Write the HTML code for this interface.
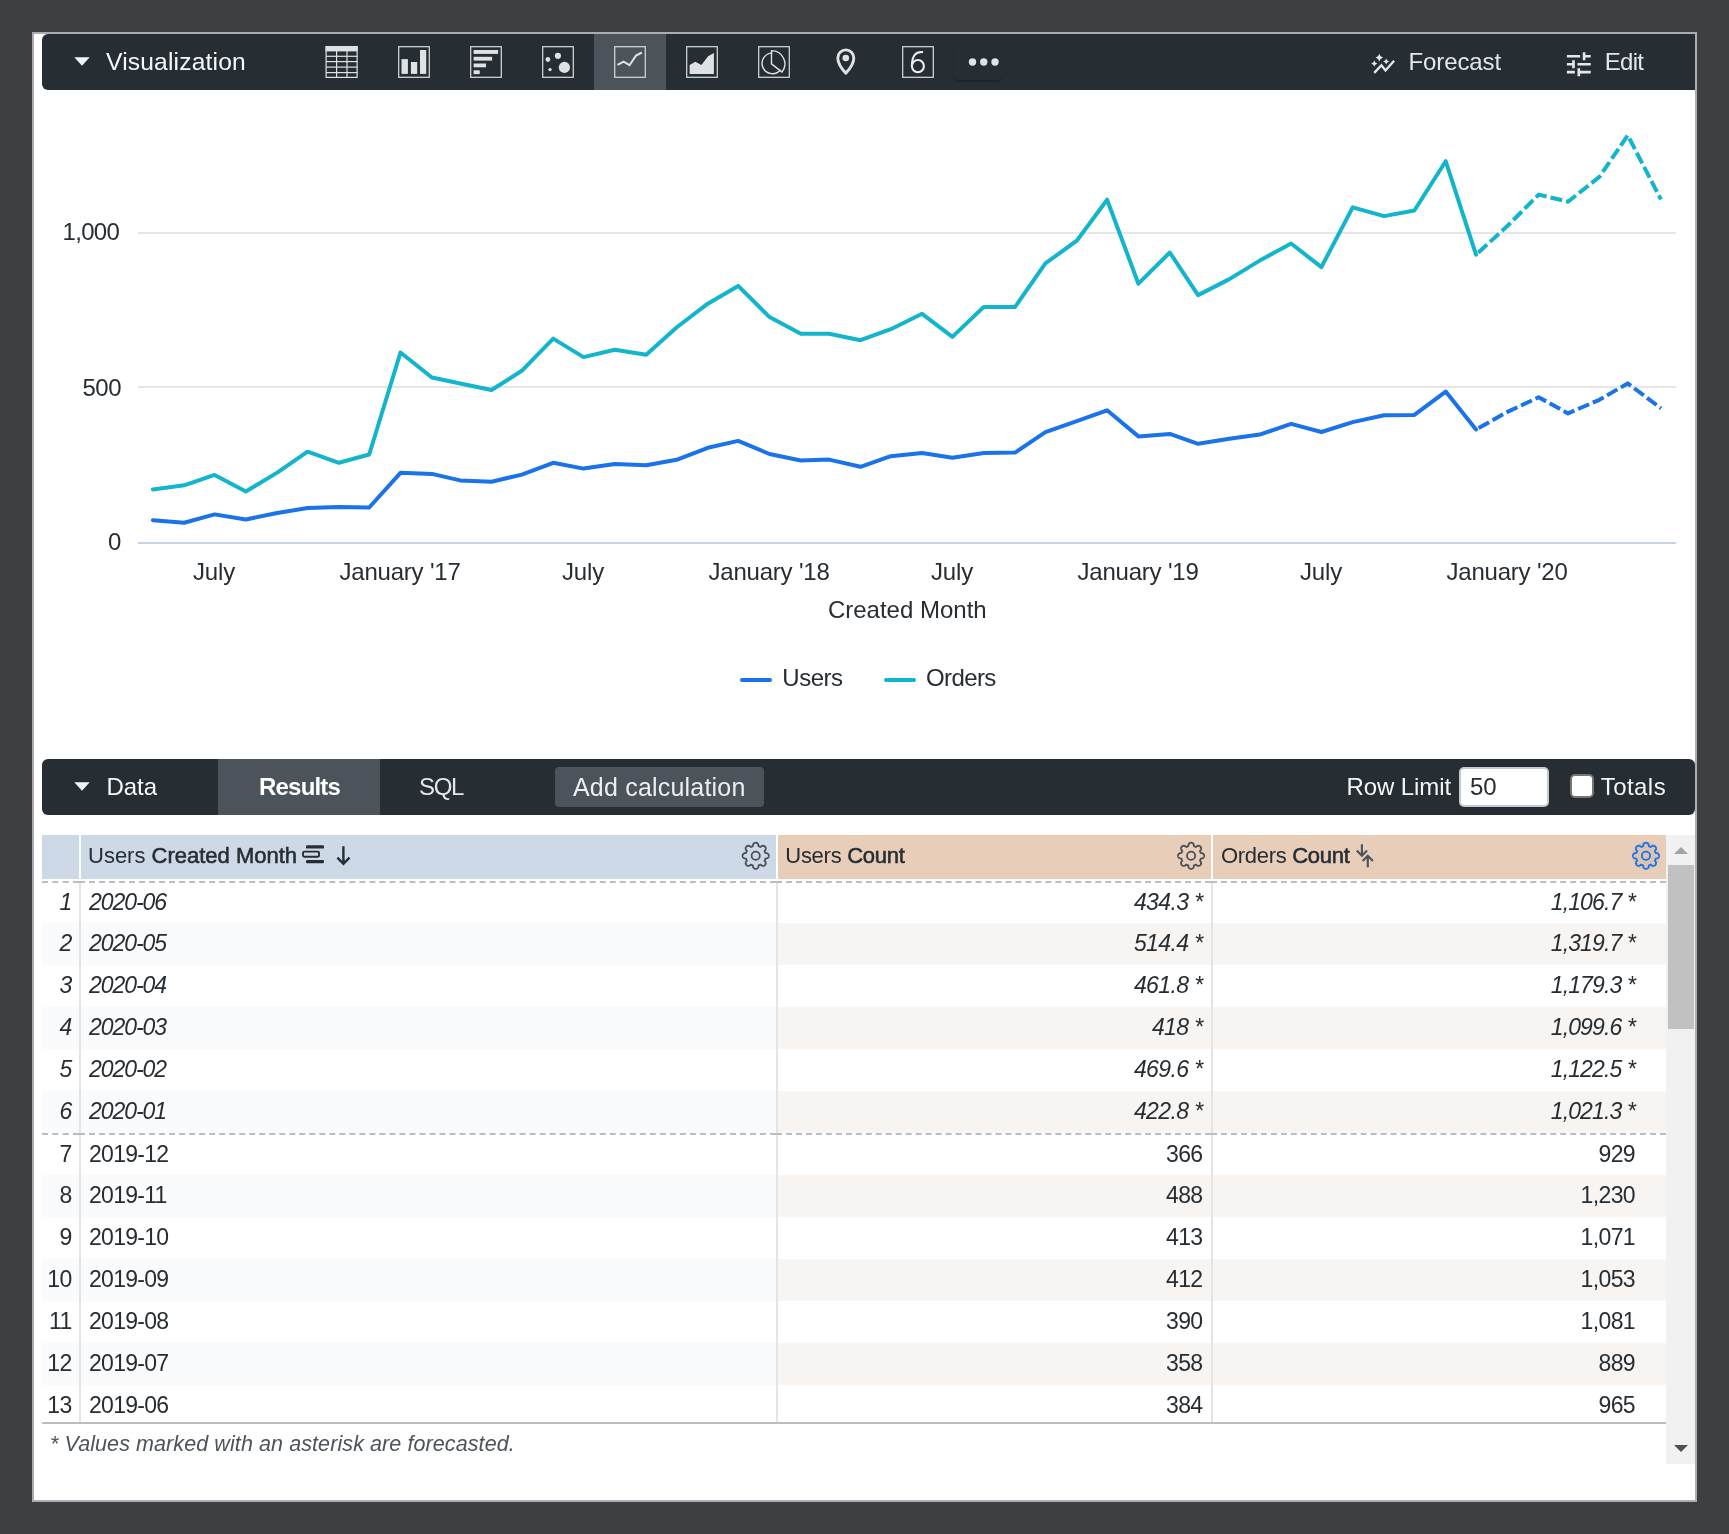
<!DOCTYPE html>
<html><head><meta charset="utf-8"><title>Explore</title>
<style>
*{box-sizing:border-box;margin:0;padding:0}
html,body{width:1729px;height:1534px;overflow:hidden;background:#3c4043;font-family:"Liberation Sans",sans-serif;color:#262d33}
.page>*,.row>div{position:absolute}
.page{position:absolute;left:0;top:0;width:1729px;height:1534px;overflow:hidden;will-change:transform}
.frame{left:32px;top:32px;width:1665px;height:1470px;border:2px solid #abadb2;background:#fff}
.bar{left:42px;width:1653px;height:56px;background:#262d33;color:#f4f5f6}
.vizbar{top:34px;border-radius:6px 0 0 6px}
.databar{top:759px;border-radius:6px}
.t{white-space:nowrap;line-height:1}
.sel{background:#4c535b}
svg.chart{left:0;top:0}
.ax{font-size:24px;color:#262d33}
.hdr{top:835px;height:44px}
.xl{transform:translateX(-50%);letter-spacing:-0.2px;margin-top:-0.5px}
.th{font-size:22px;color:#262d33;top:845px}
.th b{font-weight:normal;-webkit-text-stroke:0.55px #262d33}
.row{left:42px;width:1624px;height:42px;font-size:23px}
.row>div{top:0;height:42px;line-height:42px;white-space:nowrap}
.row>div>span{position:relative;top:-1px;display:inline-block;line-height:1}
.row.bt>div>span{top:0px}
.row .c0{left:0;width:37px;text-align:right;padding-right:7.5px;letter-spacing:-0.7px}
.row .c1{left:39px;width:695px;padding-left:8px;letter-spacing:-0.72px}
.row .c2{left:736px;width:433px;text-align:right;padding-right:8.5px;letter-spacing:-0.62px}
.row .c3{left:1171px;width:453px;text-align:right;padding-right:31px;letter-spacing:-0.62px}
.row.fc .c1{letter-spacing:-1.05px}
.row.fc .c3{letter-spacing:-0.87px}
.row.alt .c0,.row.alt .c1{background:#f9fbfd}
.row.alt .c2,.row.alt .c3{background:#f7f4f1}
.row.fc{font-style:italic}
.vsep{width:2px;background:rgba(0,0,0,0.105);top:883px;height:539px}
.dash{height:0;border-top:2px dashed #b9bec6}
</style></head><body>
<div class="page">
<div class="frame"></div>

<!-- ===== Visualization bar ===== -->
<div class="bar vizbar"></div>
<div class="sel" style="left:594px;top:34px;width:72px;height:56px"></div>
<svg style="left:74px;top:57px" width="16" height="9" viewBox="0 0 16 9"><path d="M0.3 0.3h15.4L8 8.7z" fill="#f4f5f6"/></svg>
<div class="t" id="t_viz" style="left:106px;top:50px;font-size:24.6px;letter-spacing:0.17px;color:#f8f9fa">Visualization</div>

<div style="left:954px;top:41px;width:48px;height:39px;border-radius:5px;background:#262d33;box-shadow:0 2px 3px -1px rgba(0,0,0,0.35)"></div>
<svg style="left:0;top:0" width="1729" height="100" viewBox="0 0 1729 100"><g stroke="#dfe1e5" stroke-width="1.2" fill="none"><rect x="325.6" y="46" width="32" height="5.4" fill="#dfe1e5" stroke="none"/><rect x="326.1" y="46.6" width="31" height="30.8"/><line x1="326" x2="357.5" y1="56.3" y2="56.3"/><line x1="326" x2="357.5" y1="61.6" y2="61.6"/><line x1="326" x2="357.5" y1="67.1" y2="67.1"/><line x1="326" x2="357.5" y1="72.6" y2="72.6"/><line x1="336.6" x2="336.6" y1="51" y2="77.5"/><line x1="347.0" x2="347.0" y1="51" y2="77.5"/></g><rect x="398.7" y="46.7" width="30.6" height="30.6" fill="none" stroke="#d3d6da" stroke-width="1.25"/><g fill="#dfe1e5"><rect x="401.5" y="59.1" width="6.4" height="14.8"/><rect x="410.9" y="62" width="6.3" height="11.9"/><rect x="420" y="50" width="6.2" height="23.9"/></g><rect x="470.7" y="46.7" width="30.6" height="30.6" fill="none" stroke="#d3d6da" stroke-width="1.25"/><g fill="#dfe1e5"><rect x="473.6" y="50" width="24.5" height="3.9"/><rect x="473.6" y="56.8" width="18.5" height="3.8"/><rect x="473.6" y="63.5" width="12.4" height="3.8"/><rect x="473.6" y="70.3" width="6.1" height="3.8"/></g><rect x="542.7" y="46.7" width="30.6" height="30.6" fill="none" stroke="#d3d6da" stroke-width="1.25"/><g fill="#dfe1e5"><circle cx="557.9" cy="55.8" r="3.1"/><circle cx="547.9" cy="59.5" r="2.4"/><circle cx="564.4" cy="67.4" r="5.6"/><circle cx="550" cy="69.6" r="1.7"/></g><rect x="614.7" y="46.7" width="30.6" height="30.6" fill="none" stroke="#d3d6da" stroke-width="1.25"/><polyline points="617.5,64.9 623.6,61.6 629.5,65.2 636,55.6 641.9,52.5" fill="none" stroke="#dfe1e5" stroke-width="2"/><rect x="686.7" y="46.7" width="30.6" height="30.6" fill="none" stroke="#d3d6da" stroke-width="1.25"/><polygon points="689.6,73.9 689.6,64.9 695.4,61.7 701.4,64.9 708.1,56.2 713.9,53 713.9,73.9" fill="#dfe1e5"/><rect x="758.7" y="46.7" width="30.6" height="30.6" fill="none" stroke="#d3d6da" stroke-width="1.25"/><path d="M772.4 53.099999999999994 A10.3 10.3 0 1 0 780.5 69.7" fill="none" stroke="#dfe1e5" stroke-width="1.4"/><path d="M771.5 63.9 L771.5 50.599999999999994 A13.3 13.3 0 0 1 782.0 72.1 Z" fill="none" stroke="#dfe1e5" stroke-width="1.4" stroke-linejoin="round"/><path d="M845.8 73.2 C845.8 73.2 837.8 64.4 837.8 57.9 A8 8 0 0 1 853.8 57.9 C853.8 64.4 845.8 73.2 845.8 73.2 Z" fill="none" stroke="#dfe1e5" stroke-width="2.9" stroke-linejoin="round"/><circle cx="845.8" cy="58" r="3.3" fill="#dfe1e5"/><rect x="902.7" y="46.7" width="30.6" height="30.6" fill="none" stroke="#d3d6da" stroke-width="1.25"/><path d="M923 52.1 C915.8 51.3 911.9 55.8 911.9 66.1" fill="none" stroke="#eceef1" stroke-width="2.1"/><ellipse cx="917.9" cy="66.1" rx="6" ry="6.1" fill="none" stroke="#eceef1" stroke-width="2.1"/><circle cx="972.5" cy="62" r="3.7" fill="#e1e3e7"/><circle cx="983.75" cy="62" r="3.7" fill="#e1e3e7"/><circle cx="995" cy="62" r="3.7" fill="#e1e3e7"/><polyline points="1374.2,72.9 1381.4,65.2 1385.5,70.5 1394.1,60.8" fill="none" stroke="#e4e7eb" stroke-width="2.3"/><g fill="#e4e7eb"><polygon points="1379.30,53.80 1380.59,56.31 1383.10,57.60 1380.59,58.89 1379.30,61.40 1378.01,58.89 1375.50,57.60 1378.01,56.31"/><polygon points="1386.20,58.40 1387.25,60.45 1389.30,61.50 1387.25,62.55 1386.20,64.60 1385.15,62.55 1383.10,61.50 1385.15,60.45"/><polygon points="1374.30,60.50 1375.35,62.55 1377.40,63.60 1375.35,64.65 1374.30,66.70 1373.25,64.65 1371.20,63.60 1373.25,62.55"/></g><g transform="translate(1562.9 48.3) scale(1.325)" fill="#e4e7eb"><path d="M3 17v2h6v-2H3zM3 5v2h10V5H3zm10 16v-2h8v-2h-8v-2h-2v6h2zM7 9v2H3v2h4v2h2V9H7zm14 4v-2H11v2h10zm-6-4h2V7h4V5h-4V3h-2v6z"/></g></svg>
<div class="t" id="t_fc" style="left:1408.6px;top:50.3px;font-size:24px;color:#e4e6e9;letter-spacing:-0.13px">Forecast</div>
<div class="t" id="t_edit" style="left:1604.7px;top:50.3px;font-size:24px;color:#e4e6e9;letter-spacing:-0.7px">Edit</div>

<!-- ===== Chart ===== -->

<svg class="chart" width="1729" height="1534" viewBox="0 0 1729 1534">
 <g stroke="#e6e6e6" stroke-width="2">
  <line x1="138" x2="1676" y1="233" y2="233"/>
  <line x1="138" x2="1676" y1="387" y2="387"/>
 </g>
 <line x1="138" x2="1676" y1="543" y2="543" stroke="#c8d2e9" stroke-width="2"/>
 <g fill="none" stroke-width="4" stroke-linejoin="round">
  <path d="M152.9 520.2 L184.2 522.8 L214.6 514.4 L245.9 519.5 L277.2 513.0 L307.6 508.0 L338.9 507.0 L369.2 507.5 L400.5 472.8 L431.9 473.9 L460.2 480.4 L491.5 481.8 L521.8 474.6 L553.2 462.8 L583.5 468.6 L614.8 464.0 L646.2 465.2 L676.5 459.8 L707.8 447.8 L738.2 440.9 L769.5 454.0 L800.8 460.5 L829.1 459.6 L860.5 466.8 L890.8 456.2 L922.1 453.1 L952.4 457.7 L983.8 453.1 L1015.1 452.6 L1045.4 432.2 L1076.8 421.1 L1107.1 410.3 L1138.4 436.4 L1169.8 433.9 L1198.1 443.8 L1229.4 438.7 L1259.7 434.6 L1291.1 423.9 L1321.4 432.0 L1352.7 422.1 L1384.1 415.2 L1414.4 414.9 L1445.7 391.6 L1476.0 429.5" stroke="#1a73e8" stroke-linecap="round"/>
  <path d="M1476.0 429.5 L1507.4 411.9 L1538.7 397.3 L1568.0 413.4 L1599.4 399.8 L1627.7 383.4 L1661.0 408.3" stroke="#1a73e8" stroke-dasharray="12 4" stroke-dashoffset="13"/>
  <path d="M152.9 489.4 L184.2 485.3 L214.6 474.9 L245.9 491.5 L277.2 472.6 L307.6 451.7 L338.9 462.8 L369.2 454.5 L400.5 352.5 L431.9 377.5 L460.2 383.5 L491.5 390.0 L521.8 370.8 L553.2 338.6 L583.5 357.1 L614.8 349.7 L646.2 354.8 L676.5 327.5 L707.8 303.7 L738.2 285.9 L769.5 317.1 L800.8 333.7 L829.1 333.7 L860.5 340.2 L890.8 329.2 L922.1 313.8 L952.4 336.9 L983.8 306.9 L1015.1 306.9 L1045.4 263.4 L1076.8 240.7 L1107.1 199.7 L1138.4 283.7 L1169.8 252.5 L1198.1 295.1 L1229.4 279.1 L1259.7 260.6 L1291.1 243.5 L1321.4 267.1 L1352.7 207.4 L1384.1 216.1 L1414.4 210.5 L1445.7 161.2 L1476.0 254.7" stroke="#12b5cb" stroke-linecap="round"/>
  <path d="M1476.0 254.7 L1507.4 226.0 L1538.7 194.6 L1568.0 201.7 L1599.4 176.9 L1627.7 135.3 L1661.0 199.5" stroke="#12b5cb" stroke-dasharray="12 4" stroke-dashoffset="13"/>
 </g>
 <line x1="742" x2="770" y1="680" y2="680" stroke="#1a73e8" stroke-width="4" stroke-linecap="round"/>
 <line x1="886" x2="914" y1="680" y2="680" stroke="#12b5cb" stroke-width="4" stroke-linecap="round"/>
</svg>

<div class="t ax" id="ax1000" style="left:62.6px;top:219.5px;letter-spacing:-0.7px">1,000</div>
<div class="t ax" id="ax500" style="left:82.5px;top:375.5px;letter-spacing:-0.5px">500</div>
<div class="t ax" id="ax0" style="left:108px;top:529.5px">0</div>
<div class="t ax xl" id="xl0" style="left:214px;top:560px">July</div>
<div class="t ax xl" id="xl1" style="left:400px;top:560px">January '17</div>
<div class="t ax xl" style="left:583px;top:560px">July</div>
<div class="t ax xl" style="left:769px;top:560px">January '18</div>
<div class="t ax xl" style="left:952px;top:560px">July</div>
<div class="t ax xl" style="left:1138px;top:560px">January '19</div>
<div class="t ax xl" style="left:1321px;top:560px">July</div>
<div class="t ax xl" style="left:1507px;top:560px">January '20</div>
<div class="t ax xl" id="axt" style="left:907.3px;top:598px;letter-spacing:0">Created Month</div>
<div class="t ax" id="lgU" style="left:782.3px;top:666px;letter-spacing:-0.5px">Users</div>
<div class="t ax" id="lgO" style="left:926px;top:666px;letter-spacing:-0.6px">Orders</div>

<!-- ===== Data bar ===== -->
<div class="bar databar"></div>
<div class="sel" style="left:218px;top:759px;width:162px;height:56px"></div>
<svg style="left:74px;top:782px" width="16" height="9" viewBox="0 0 16 9"><path d="M0.3 0.3h15.4L8 8.7z" fill="#f4f5f6"/></svg>
<div class="t" id="t_data" style="left:106.4px;top:775px;font-size:24px;color:#f8f9fa">Data</div>
<div class="t" id="t_res" style="left:259px;top:775px;font-size:24px;font-weight:bold;color:#fff;letter-spacing:-0.8px">Results</div>
<div class="t" id="t_sql" style="left:419px;top:775px;font-size:24px;color:#e4e6e9;letter-spacing:-1.3px">SQL</div>
<div style="left:555px;top:767px;width:209px;height:40px;background:#4c535b;border-radius:4px"></div>
<div class="t" id="t_add" style="left:573px;top:774.5px;font-size:25px;color:#eceef0;letter-spacing:0.2px">Add calculation</div>
<div class="t" id="t_rl" style="left:1346.5px;top:774.5px;font-size:24px;color:#f4f5f6;letter-spacing:-0.1px">Row Limit</div>
<div style="left:1459px;top:767px;width:90px;height:40px;background:#fff;border:2px solid #c6c9cd;border-radius:5px"></div>
<div class="t" id="t_50" style="left:1470px;top:775px;font-size:24px;color:#262d33">50</div>
<div style="left:1570px;top:774px;width:24px;height:24px;background:#fff;border:2px solid #767676;border-radius:5px"></div>
<div class="t" id="t_tot" style="left:1600.7px;top:774.5px;font-size:24px;color:#f4f5f6;letter-spacing:0.45px">Totals</div>

<!-- ===== Table ===== -->
<div class="hdr" style="left:42px;width:37px;background:#cdd9e7"></div>
<div class="hdr" style="left:81px;width:695px;background:#cdd9e7"></div>
<div class="hdr" style="left:778px;width:433px;background:#e8cdb9"></div>
<div class="hdr" style="left:1213px;width:453px;background:#e8cdb9"></div>
<div class="t th" id="th1" style="left:88px">Users <b>Created Month</b></div>
<div class="t th" id="th2" style="left:785.3px;letter-spacing:-0.28px">Users <b>Count</b></div>
<div class="t th" id="th3" style="left:1221px;letter-spacing:-0.3px">Orders <b>Count</b></div>

<div class="row fc bt" style="top:881px"><div class="c0"><span>1</span></div><div class="c1"><span>2020-06</span></div><div class="c2"><span>434.3 *</span></div><div class="c3"><span>1,106.7 *</span></div></div>
<div class="row alt fc" style="top:923px"><div class="c0"><span>2</span></div><div class="c1"><span>2020-05</span></div><div class="c2"><span>514.4 *</span></div><div class="c3"><span>1,319.7 *</span></div></div>
<div class="row fc" style="top:965px"><div class="c0"><span>3</span></div><div class="c1"><span>2020-04</span></div><div class="c2"><span>461.8 *</span></div><div class="c3"><span>1,179.3 *</span></div></div>
<div class="row alt fc" style="top:1007px"><div class="c0"><span>4</span></div><div class="c1"><span>2020-03</span></div><div class="c2"><span>418 *</span></div><div class="c3"><span>1,099.6 *</span></div></div>
<div class="row fc" style="top:1049px"><div class="c0"><span>5</span></div><div class="c1"><span>2020-02</span></div><div class="c2"><span>469.6 *</span></div><div class="c3"><span>1,122.5 *</span></div></div>
<div class="row alt fc" style="top:1091px"><div class="c0"><span>6</span></div><div class="c1"><span>2020-01</span></div><div class="c2"><span>422.8 *</span></div><div class="c3"><span>1,021.3 *</span></div></div>
<div class="row bt" style="top:1133px"><div class="c0"><span>7</span></div><div class="c1"><span>2019-12</span></div><div class="c2"><span>366</span></div><div class="c3"><span>929</span></div></div>
<div class="row alt" style="top:1175px"><div class="c0"><span>8</span></div><div class="c1"><span>2019-11</span></div><div class="c2"><span>488</span></div><div class="c3"><span>1,230</span></div></div>
<div class="row" style="top:1217px"><div class="c0"><span>9</span></div><div class="c1"><span>2019-10</span></div><div class="c2"><span>413</span></div><div class="c3"><span>1,071</span></div></div>
<div class="row alt" style="top:1259px"><div class="c0"><span>10</span></div><div class="c1"><span>2019-09</span></div><div class="c2"><span>412</span></div><div class="c3"><span>1,053</span></div></div>
<div class="row" style="top:1301px"><div class="c0"><span>11</span></div><div class="c1"><span>2019-08</span></div><div class="c2"><span>390</span></div><div class="c3"><span>1,081</span></div></div>
<div class="row alt" style="top:1343px"><div class="c0"><span>12</span></div><div class="c1"><span>2019-07</span></div><div class="c2"><span>358</span></div><div class="c3"><span>889</span></div></div>
<div class="row" style="top:1385px"><div class="c0"><span>13</span></div><div class="c1"><span>2019-06</span></div><div class="c2"><span>384</span></div><div class="c3"><span>965</span></div></div>

<div style="left:34px;top:1424px;width:1661px;height:76px;background:#fff"></div>
<div class="vsep" style="left:79px"></div>
<div class="vsep" style="left:776px"></div>
<div class="vsep" style="left:1211px"></div>
<div class="dash" style="left:42px;top:881px;width:37px"></div>
<div class="dash" style="left:79px;top:881px;width:697px"></div>
<div class="dash" style="left:776px;top:881px;width:435px"></div>
<div class="dash" style="left:1211px;top:881px;width:455px"></div>
<div class="dash" style="left:42px;top:1133px;width:37px"></div>
<div class="dash" style="left:79px;top:1133px;width:697px"></div>
<div class="dash" style="left:776px;top:1133px;width:435px"></div>
<div class="dash" style="left:1211px;top:1133px;width:455px"></div>
<div style="left:42px;top:1422px;width:1624px;height:2px;background:#bdbdbd"></div>
<div class="t" id="t_foot" style="left:50px;top:1434px;font-size:21.5px;font-style:italic;color:#4c535b;letter-spacing:0.09px">* Values marked with an asterisk are forecasted.</div>

<svg style="left:0;top:830px" width="1729" height="56" viewBox="0 830 1729 56"><g fill="#262d33"><rect x="306" y="845.3" width="18" height="3.3" rx="1.2"/><rect x="306" y="860" width="18" height="3.3" rx="1.2"/></g><rect x="303.05" y="851.65" width="16" height="5.1" rx="1.2" fill="none" stroke="#262d33" stroke-width="1.9"/><path d="M343.4 846.2 V863.6 M337.4 857.6 L343.4 863.8 L349.5 857.6" fill="none" stroke="#262d33" stroke-width="2.4"/><path d="M1361.9 844.2 V855.5 M1356.8 850.6 L1361.9 855.8 L1367 850.6" fill="none" stroke="#49525e" stroke-width="2.1"/><path d="M1367.8 867.2 V856 M1362.7 861 L1367.8 855.8 L1372.9 861" fill="none" stroke="#49525e" stroke-width="2.1"/><g fill="none" stroke="#4a5058" stroke-width="1.8" stroke-linejoin="round"><path d="M755.70 842.70 L756.04 842.72 L756.38 842.79 L756.72 842.89 L757.04 843.05 L757.35 843.25 L757.65 843.51 L757.92 843.83 L758.16 844.22 L758.36 844.74 L758.45 845.54 L758.54 846.21 L758.79 846.29 L759.04 846.37 L759.28 846.46 L759.53 846.56 L759.77 846.66 L760.01 846.77 L760.24 846.89 L760.47 847.01 L761.01 846.60 L761.64 846.10 L762.15 845.87 L762.60 845.76 L763.02 845.73 L763.40 845.76 L763.77 845.84 L764.11 845.96 L764.42 846.12 L764.71 846.31 L764.96 846.54 L765.19 846.79 L765.38 847.08 L765.54 847.39 L765.66 847.73 L765.74 848.10 L765.77 848.48 L765.74 848.90 L765.63 849.35 L765.40 849.86 L764.90 850.49 L764.49 851.03 L764.61 851.26 L764.73 851.49 L764.84 851.73 L764.94 851.97 L765.04 852.22 L765.13 852.46 L765.21 852.71 L765.29 852.96 L765.96 853.05 L766.76 853.14 L767.28 853.34 L767.67 853.58 L767.99 853.85 L768.25 854.15 L768.45 854.46 L768.61 854.78 L768.71 855.12 L768.78 855.46 L768.80 855.80 L768.78 856.14 L768.71 856.48 L768.61 856.82 L768.45 857.14 L768.25 857.45 L767.99 857.75 L767.67 858.02 L767.28 858.26 L766.76 858.46 L765.96 858.55 L765.29 858.64 L765.21 858.89 L765.13 859.14 L765.04 859.38 L764.94 859.63 L764.84 859.87 L764.73 860.11 L764.61 860.34 L764.49 860.57 L764.90 861.11 L765.40 861.74 L765.63 862.25 L765.74 862.70 L765.77 863.12 L765.74 863.50 L765.66 863.87 L765.54 864.21 L765.38 864.52 L765.19 864.81 L764.96 865.06 L764.71 865.29 L764.42 865.48 L764.11 865.64 L763.77 865.76 L763.40 865.84 L763.02 865.87 L762.60 865.84 L762.15 865.73 L761.64 865.50 L761.01 865.00 L760.47 864.59 L760.24 864.71 L760.01 864.83 L759.77 864.94 L759.53 865.04 L759.28 865.14 L759.04 865.23 L758.79 865.31 L758.54 865.39 L758.45 866.06 L758.36 866.86 L758.16 867.38 L757.92 867.77 L757.65 868.09 L757.35 868.35 L757.04 868.55 L756.72 868.71 L756.38 868.81 L756.04 868.88 L755.70 868.90 L755.36 868.88 L755.02 868.81 L754.68 868.71 L754.36 868.55 L754.05 868.35 L753.75 868.09 L753.48 867.77 L753.24 867.38 L753.04 866.86 L752.95 866.06 L752.86 865.39 L752.61 865.31 L752.36 865.23 L752.12 865.14 L751.87 865.04 L751.63 864.94 L751.39 864.83 L751.16 864.71 L750.93 864.59 L750.39 865.00 L749.76 865.50 L749.25 865.73 L748.80 865.84 L748.38 865.87 L748.00 865.84 L747.63 865.76 L747.29 865.64 L746.98 865.48 L746.69 865.29 L746.44 865.06 L746.21 864.81 L746.02 864.52 L745.86 864.21 L745.74 863.87 L745.66 863.50 L745.63 863.12 L745.66 862.70 L745.77 862.25 L746.00 861.74 L746.50 861.11 L746.91 860.57 L746.79 860.34 L746.67 860.11 L746.56 859.87 L746.46 859.63 L746.36 859.38 L746.27 859.14 L746.19 858.89 L746.11 858.64 L745.44 858.55 L744.64 858.46 L744.12 858.26 L743.73 858.02 L743.41 857.75 L743.15 857.45 L742.95 857.14 L742.79 856.82 L742.69 856.48 L742.62 856.14 L742.60 855.80 L742.62 855.46 L742.69 855.12 L742.79 854.78 L742.95 854.46 L743.15 854.15 L743.41 853.85 L743.73 853.58 L744.12 853.34 L744.64 853.14 L745.44 853.05 L746.11 852.96 L746.19 852.71 L746.27 852.46 L746.36 852.22 L746.46 851.97 L746.56 851.73 L746.67 851.49 L746.79 851.26 L746.91 851.03 L746.50 850.49 L746.00 849.86 L745.77 849.35 L745.66 848.90 L745.63 848.48 L745.66 848.10 L745.74 847.73 L745.86 847.39 L746.02 847.08 L746.21 846.79 L746.44 846.54 L746.69 846.31 L746.98 846.12 L747.29 845.96 L747.63 845.84 L748.00 845.76 L748.38 845.73 L748.80 845.76 L749.25 845.87 L749.76 846.10 L750.39 846.60 L750.93 847.01 L751.16 846.89 L751.39 846.77 L751.63 846.66 L751.87 846.56 L752.12 846.46 L752.36 846.37 L752.61 846.29 L752.86 846.21 L752.95 845.54 L753.04 844.74 L753.24 844.22 L753.48 843.83 L753.75 843.51 L754.05 843.25 L754.36 843.05 L754.68 842.89 L755.02 842.79 L755.36 842.72Z"/><circle cx="755.7" cy="855.8" r="4.1"/></g><g fill="none" stroke="#4a5058" stroke-width="1.8" stroke-linejoin="round"><path d="M1191.10 842.70 L1191.44 842.72 L1191.78 842.79 L1192.12 842.89 L1192.44 843.05 L1192.75 843.25 L1193.05 843.51 L1193.32 843.83 L1193.56 844.22 L1193.76 844.74 L1193.85 845.54 L1193.94 846.21 L1194.19 846.29 L1194.44 846.37 L1194.68 846.46 L1194.93 846.56 L1195.17 846.66 L1195.41 846.77 L1195.64 846.89 L1195.87 847.01 L1196.41 846.60 L1197.04 846.10 L1197.55 845.87 L1198.00 845.76 L1198.42 845.73 L1198.80 845.76 L1199.17 845.84 L1199.51 845.96 L1199.82 846.12 L1200.11 846.31 L1200.36 846.54 L1200.59 846.79 L1200.78 847.08 L1200.94 847.39 L1201.06 847.73 L1201.14 848.10 L1201.17 848.48 L1201.14 848.90 L1201.03 849.35 L1200.80 849.86 L1200.30 850.49 L1199.89 851.03 L1200.01 851.26 L1200.13 851.49 L1200.24 851.73 L1200.34 851.97 L1200.44 852.22 L1200.53 852.46 L1200.61 852.71 L1200.69 852.96 L1201.36 853.05 L1202.16 853.14 L1202.68 853.34 L1203.07 853.58 L1203.39 853.85 L1203.65 854.15 L1203.85 854.46 L1204.01 854.78 L1204.11 855.12 L1204.18 855.46 L1204.20 855.80 L1204.18 856.14 L1204.11 856.48 L1204.01 856.82 L1203.85 857.14 L1203.65 857.45 L1203.39 857.75 L1203.07 858.02 L1202.68 858.26 L1202.16 858.46 L1201.36 858.55 L1200.69 858.64 L1200.61 858.89 L1200.53 859.14 L1200.44 859.38 L1200.34 859.63 L1200.24 859.87 L1200.13 860.11 L1200.01 860.34 L1199.89 860.57 L1200.30 861.11 L1200.80 861.74 L1201.03 862.25 L1201.14 862.70 L1201.17 863.12 L1201.14 863.50 L1201.06 863.87 L1200.94 864.21 L1200.78 864.52 L1200.59 864.81 L1200.36 865.06 L1200.11 865.29 L1199.82 865.48 L1199.51 865.64 L1199.17 865.76 L1198.80 865.84 L1198.42 865.87 L1198.00 865.84 L1197.55 865.73 L1197.04 865.50 L1196.41 865.00 L1195.87 864.59 L1195.64 864.71 L1195.41 864.83 L1195.17 864.94 L1194.93 865.04 L1194.68 865.14 L1194.44 865.23 L1194.19 865.31 L1193.94 865.39 L1193.85 866.06 L1193.76 866.86 L1193.56 867.38 L1193.32 867.77 L1193.05 868.09 L1192.75 868.35 L1192.44 868.55 L1192.12 868.71 L1191.78 868.81 L1191.44 868.88 L1191.10 868.90 L1190.76 868.88 L1190.42 868.81 L1190.08 868.71 L1189.76 868.55 L1189.45 868.35 L1189.15 868.09 L1188.88 867.77 L1188.64 867.38 L1188.44 866.86 L1188.35 866.06 L1188.26 865.39 L1188.01 865.31 L1187.76 865.23 L1187.52 865.14 L1187.27 865.04 L1187.03 864.94 L1186.79 864.83 L1186.56 864.71 L1186.33 864.59 L1185.79 865.00 L1185.16 865.50 L1184.65 865.73 L1184.20 865.84 L1183.78 865.87 L1183.40 865.84 L1183.03 865.76 L1182.69 865.64 L1182.38 865.48 L1182.09 865.29 L1181.84 865.06 L1181.61 864.81 L1181.42 864.52 L1181.26 864.21 L1181.14 863.87 L1181.06 863.50 L1181.03 863.12 L1181.06 862.70 L1181.17 862.25 L1181.40 861.74 L1181.90 861.11 L1182.31 860.57 L1182.19 860.34 L1182.07 860.11 L1181.96 859.87 L1181.86 859.63 L1181.76 859.38 L1181.67 859.14 L1181.59 858.89 L1181.51 858.64 L1180.84 858.55 L1180.04 858.46 L1179.52 858.26 L1179.13 858.02 L1178.81 857.75 L1178.55 857.45 L1178.35 857.14 L1178.19 856.82 L1178.09 856.48 L1178.02 856.14 L1178.00 855.80 L1178.02 855.46 L1178.09 855.12 L1178.19 854.78 L1178.35 854.46 L1178.55 854.15 L1178.81 853.85 L1179.13 853.58 L1179.52 853.34 L1180.04 853.14 L1180.84 853.05 L1181.51 852.96 L1181.59 852.71 L1181.67 852.46 L1181.76 852.22 L1181.86 851.97 L1181.96 851.73 L1182.07 851.49 L1182.19 851.26 L1182.31 851.03 L1181.90 850.49 L1181.40 849.86 L1181.17 849.35 L1181.06 848.90 L1181.03 848.48 L1181.06 848.10 L1181.14 847.73 L1181.26 847.39 L1181.42 847.08 L1181.61 846.79 L1181.84 846.54 L1182.09 846.31 L1182.38 846.12 L1182.69 845.96 L1183.03 845.84 L1183.40 845.76 L1183.78 845.73 L1184.20 845.76 L1184.65 845.87 L1185.16 846.10 L1185.79 846.60 L1186.33 847.01 L1186.56 846.89 L1186.79 846.77 L1187.03 846.66 L1187.27 846.56 L1187.52 846.46 L1187.76 846.37 L1188.01 846.29 L1188.26 846.21 L1188.35 845.54 L1188.44 844.74 L1188.64 844.22 L1188.88 843.83 L1189.15 843.51 L1189.45 843.25 L1189.76 843.05 L1190.08 842.89 L1190.42 842.79 L1190.76 842.72Z"/><circle cx="1191.1" cy="855.8" r="4.1"/></g><circle cx="1646" cy="855.8" r="14" fill="#dcc3b2"/><g fill="none" stroke="#1a73e8" stroke-width="1.8" stroke-linejoin="round"><path d="M1646.00 842.70 L1646.34 842.72 L1646.68 842.79 L1647.02 842.89 L1647.34 843.05 L1647.65 843.25 L1647.95 843.51 L1648.22 843.83 L1648.46 844.22 L1648.66 844.74 L1648.75 845.54 L1648.84 846.21 L1649.09 846.29 L1649.34 846.37 L1649.58 846.46 L1649.83 846.56 L1650.07 846.66 L1650.31 846.77 L1650.54 846.89 L1650.77 847.01 L1651.31 846.60 L1651.94 846.10 L1652.45 845.87 L1652.90 845.76 L1653.32 845.73 L1653.70 845.76 L1654.07 845.84 L1654.41 845.96 L1654.72 846.12 L1655.01 846.31 L1655.26 846.54 L1655.49 846.79 L1655.68 847.08 L1655.84 847.39 L1655.96 847.73 L1656.04 848.10 L1656.07 848.48 L1656.04 848.90 L1655.93 849.35 L1655.70 849.86 L1655.20 850.49 L1654.79 851.03 L1654.91 851.26 L1655.03 851.49 L1655.14 851.73 L1655.24 851.97 L1655.34 852.22 L1655.43 852.46 L1655.51 852.71 L1655.59 852.96 L1656.26 853.05 L1657.06 853.14 L1657.58 853.34 L1657.97 853.58 L1658.29 853.85 L1658.55 854.15 L1658.75 854.46 L1658.91 854.78 L1659.01 855.12 L1659.08 855.46 L1659.10 855.80 L1659.08 856.14 L1659.01 856.48 L1658.91 856.82 L1658.75 857.14 L1658.55 857.45 L1658.29 857.75 L1657.97 858.02 L1657.58 858.26 L1657.06 858.46 L1656.26 858.55 L1655.59 858.64 L1655.51 858.89 L1655.43 859.14 L1655.34 859.38 L1655.24 859.63 L1655.14 859.87 L1655.03 860.11 L1654.91 860.34 L1654.79 860.57 L1655.20 861.11 L1655.70 861.74 L1655.93 862.25 L1656.04 862.70 L1656.07 863.12 L1656.04 863.50 L1655.96 863.87 L1655.84 864.21 L1655.68 864.52 L1655.49 864.81 L1655.26 865.06 L1655.01 865.29 L1654.72 865.48 L1654.41 865.64 L1654.07 865.76 L1653.70 865.84 L1653.32 865.87 L1652.90 865.84 L1652.45 865.73 L1651.94 865.50 L1651.31 865.00 L1650.77 864.59 L1650.54 864.71 L1650.31 864.83 L1650.07 864.94 L1649.83 865.04 L1649.58 865.14 L1649.34 865.23 L1649.09 865.31 L1648.84 865.39 L1648.75 866.06 L1648.66 866.86 L1648.46 867.38 L1648.22 867.77 L1647.95 868.09 L1647.65 868.35 L1647.34 868.55 L1647.02 868.71 L1646.68 868.81 L1646.34 868.88 L1646.00 868.90 L1645.66 868.88 L1645.32 868.81 L1644.98 868.71 L1644.66 868.55 L1644.35 868.35 L1644.05 868.09 L1643.78 867.77 L1643.54 867.38 L1643.34 866.86 L1643.25 866.06 L1643.16 865.39 L1642.91 865.31 L1642.66 865.23 L1642.42 865.14 L1642.17 865.04 L1641.93 864.94 L1641.69 864.83 L1641.46 864.71 L1641.23 864.59 L1640.69 865.00 L1640.06 865.50 L1639.55 865.73 L1639.10 865.84 L1638.68 865.87 L1638.30 865.84 L1637.93 865.76 L1637.59 865.64 L1637.28 865.48 L1636.99 865.29 L1636.74 865.06 L1636.51 864.81 L1636.32 864.52 L1636.16 864.21 L1636.04 863.87 L1635.96 863.50 L1635.93 863.12 L1635.96 862.70 L1636.07 862.25 L1636.30 861.74 L1636.80 861.11 L1637.21 860.57 L1637.09 860.34 L1636.97 860.11 L1636.86 859.87 L1636.76 859.63 L1636.66 859.38 L1636.57 859.14 L1636.49 858.89 L1636.41 858.64 L1635.74 858.55 L1634.94 858.46 L1634.42 858.26 L1634.03 858.02 L1633.71 857.75 L1633.45 857.45 L1633.25 857.14 L1633.09 856.82 L1632.99 856.48 L1632.92 856.14 L1632.90 855.80 L1632.92 855.46 L1632.99 855.12 L1633.09 854.78 L1633.25 854.46 L1633.45 854.15 L1633.71 853.85 L1634.03 853.58 L1634.42 853.34 L1634.94 853.14 L1635.74 853.05 L1636.41 852.96 L1636.49 852.71 L1636.57 852.46 L1636.66 852.22 L1636.76 851.97 L1636.86 851.73 L1636.97 851.49 L1637.09 851.26 L1637.21 851.03 L1636.80 850.49 L1636.30 849.86 L1636.07 849.35 L1635.96 848.90 L1635.93 848.48 L1635.96 848.10 L1636.04 847.73 L1636.16 847.39 L1636.32 847.08 L1636.51 846.79 L1636.74 846.54 L1636.99 846.31 L1637.28 846.12 L1637.59 845.96 L1637.93 845.84 L1638.30 845.76 L1638.68 845.73 L1639.10 845.76 L1639.55 845.87 L1640.06 846.10 L1640.69 846.60 L1641.23 847.01 L1641.46 846.89 L1641.69 846.77 L1641.93 846.66 L1642.17 846.56 L1642.42 846.46 L1642.66 846.37 L1642.91 846.29 L1643.16 846.21 L1643.25 845.54 L1643.34 844.74 L1643.54 844.22 L1643.78 843.83 L1644.05 843.51 L1644.35 843.25 L1644.66 843.05 L1644.98 842.89 L1645.32 842.79 L1645.66 842.72Z"/><circle cx="1646" cy="855.8" r="4.1"/></g></svg>
<!-- scrollbar -->
<div style="left:1666px;top:835px;width:29px;height:629px;background:#f1f1f1"></div>
<div style="left:1668px;top:865px;width:26px;height:164px;background:#c1c1c1"></div>
<svg style="left:1674px;top:847px" width="14" height="7" viewBox="0 0 14 7"><path d="M0 7L7 0l7 7z" fill="#a3a3a3"/></svg>
<svg style="left:1674px;top:1445px" width="14" height="7" viewBox="0 0 14 7"><path d="M0 0h14L7 7z" fill="#505050"/></svg>
</div>
</body></html>
